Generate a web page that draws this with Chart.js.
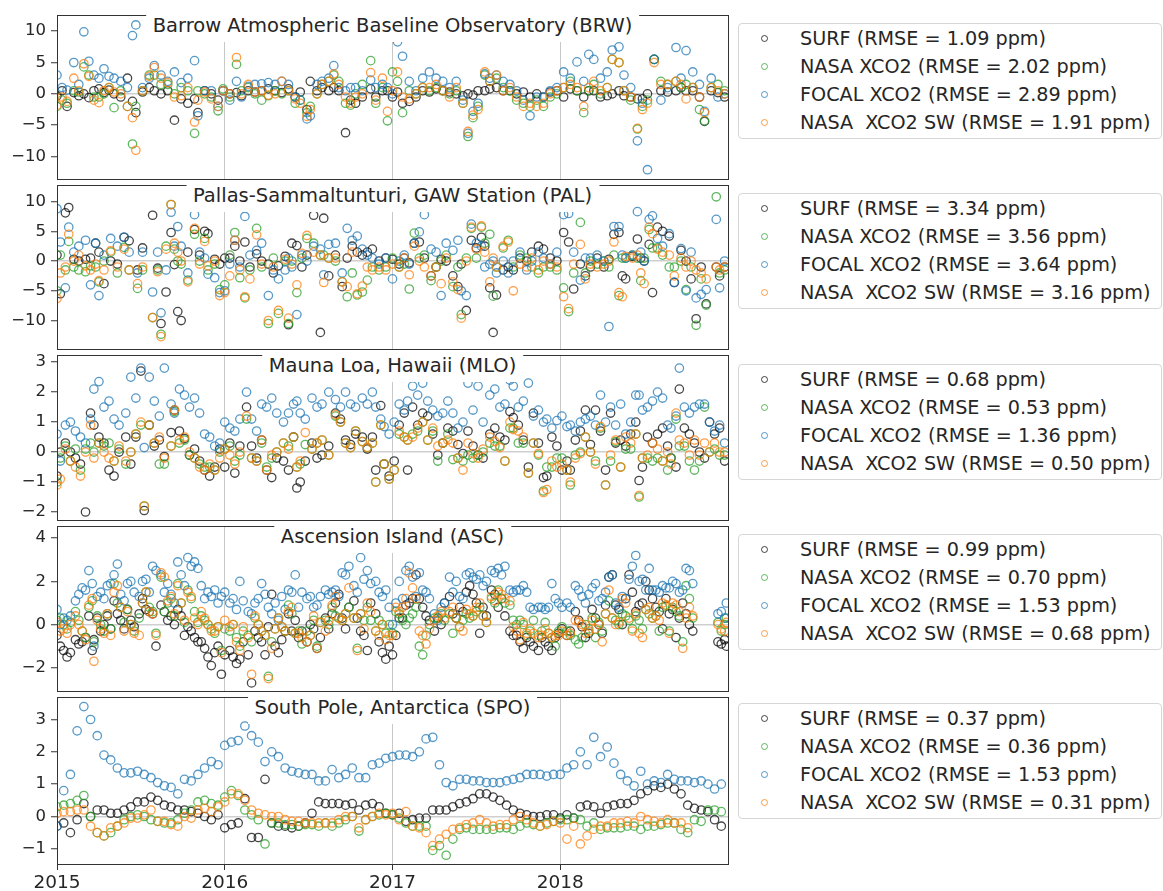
<!DOCTYPE html>
<html><head><meta charset="utf-8">
<script src="https://cdn.jsdelivr.net/npm/chart.js@4.4.1/dist/chart.umd.min.js"></script>
<style>
html,body{margin:0;padding:0;background:#fff;}
#wrap{position:relative;width:1163px;height:891px;overflow:hidden;font-family:'DejaVu Sans',sans-serif;}
.cv{position:absolute;left:0;}
.ttl{position:absolute;background:#fff;font-size:19.5px;line-height:32px;height:32px;padding:0 7px;color:#262626;white-space:pre;transform:translateX(-50%);z-index:5;}
.leg{position:absolute;left:738px;width:422px;height:114px;border:1px solid #d6d6d6;border-radius:4px;background:#fff;z-index:5;}
.row{position:absolute;left:61px;height:28px;line-height:28px;font-size:19.2px;color:#262626;white-space:pre;}
.mk{position:absolute;left:22px;width:5px;height:5px;border-radius:50%;border:1.3px solid;}
</style></head>
<body><div id="wrap"></div>
<script>
const seriesNames = ['SURF', 'NASA XCO2', 'FOCAL XCO2', 'NASA  XCO2 SW'];
const xTicks = [2015, 2016, 2017, 2018];

// ---- BRW ----
const brwTitle = 'Barrow Atmospheric Baseline Observatory (BRW)';
const brwRmse = [1.09, 2.02, 2.89, 1.91];
const brwTicks = [-10, -5, 0, 5, 10];
const brwDates = [2015.00,2015.03,2015.06,2015.10,2015.13,2015.16,2015.19,2015.22,2015.25,2015.28,
2015.31,2015.34,2015.38,2015.42,2015.45,2015.47,2015.51,2015.55,2015.58,2015.62,
2015.66,2015.70,2015.74,2015.78,2015.82,2015.84,2015.88,2015.92,2015.96,2015.99,
2016.03,2016.07,2016.10,2016.14,2016.18,2016.22,2016.26,2016.30,2016.34,2016.38,
2016.42,2016.45,2016.49,2016.51,2016.55,2016.58,2016.62,2016.65,2016.68,2016.72,
2016.75,2016.78,2016.82,2016.87,2016.90,2016.94,2016.97,2017.00,2017.03,2017.06,
2017.10,2017.14,2017.18,2017.22,2017.26,2017.30,2017.34,2017.38,2017.42,2017.45,
2017.48,2017.51,2017.55,2017.58,2017.62,2017.66,2017.70,2017.74,2017.78,2017.82,
2017.86,2017.90,2017.94,2017.98,2018.02,2018.06,2018.10,2018.14,2018.17,2018.20,
2018.24,2018.28,2018.31,2018.35,2018.38,2018.42,2018.46,2018.49,2018.52,2018.56,
2018.60,2018.64,2018.69,2018.72,2018.75,2018.79,2018.83,2018.86,2018.90,2018.94,
2018.98];
const brwSurf = [-0.3,0.5,-2.0,0.2,-0.3,0.0,-0.6,0.5,0.8,0.2,
0.6,0.0,-0.5,2.5,-1.2,-3.0,0.3,1.0,0.5,0.0,
0.5,-4.2,-0.8,-1.5,-0.8,-3.0,0.5,0.0,-1.0,0.5,
0.0,0.2,-0.3,0.5,0.3,0.5,0.8,0.5,0.2,0.8,
-0.5,0.3,-2.5,2.0,0.5,1.0,0.5,1.0,0.5,-6.2,
-1.0,-1.5,-0.5,0.8,-0.5,0.5,0.5,-0.5,0.3,-1.5,
-1.2,-0.5,0.5,0.3,0.8,0.5,0.3,0.0,-0.3,0.0,
-0.2,0.5,0.5,0.8,1.0,0.5,0.5,0.0,0.3,-0.5,
0.0,-0.5,0.3,0.5,-0.5,0.8,0.5,-0.5,0.5,0.5,
-0.5,-0.3,0.0,0.5,-0.3,-0.5,-0.8,-0.8,0.0,5.5,
0.5,0.3,0.5,1.0,0.5,0.5,-0.5,-4.4,0.5,0.2,-0.5];
const brwNasa = [-2.0,-1.0,-1.5,0.5,0.3,4.3,3.0,-0.5,-0.5,0.0,
1.0,-2.2,0.5,-2.0,-8.0,-2.0,0.5,3.0,3.0,1.5,
1.5,0.0,1.0,0.5,-6.3,0.5,0.0,-0.5,-2.7,0.8,
-0.5,4.7,0.5,1.0,0.0,-1.0,-0.3,0.5,0.0,0.5,
-1.5,-1.0,-3.0,-2.0,0.0,1.5,2.0,3.0,2.0,-1.5,
-1.8,0.0,1.5,5.3,-1.5,1.0,-4.3,3.5,2.0,-3.0,
0.5,0.0,1.0,0.5,1.0,0.5,0.0,0.5,-1.5,-6.8,
-3.8,-2.0,3.0,2.0,2.5,1.0,0.5,-1.0,-1.5,-2.0,
-1.0,-2.0,-0.5,0.0,1.0,2.0,0.5,-3.0,0.5,1.5,
0.0,1.0,5.5,5.0,0.5,-1.0,-5.6,-2.0,-1.0,5.5,
2.0,1.5,2.0,1.0,1.5,1.0,-2.5,-4.3,1.0,1.5,0.5];
const brwFocal = [3.0,1.0,0.6,5.0,1.5,9.9,5.2,3.0,2.5,4.0,
2.8,2.5,2.0,1.0,9.3,11.0,1.0,2.5,4.5,3.0,
2.0,3.5,1.8,2.5,5.3,-3.5,0.5,0.5,-2.0,0.5,
-1.0,2.0,-0.5,1.2,1.5,1.6,1.8,1.5,2.0,1.5,
-0.5,-1.0,-4.0,-3.5,1.5,2.0,2.5,4.5,1.0,0.5,
1.0,1.0,0.5,2.2,1.0,1.5,1.0,0.0,8.3,6.0,
2.0,0.5,2.5,3.5,2.5,2.0,1.0,2.0,-1.0,-6.3,
-2.8,-1.5,3.2,2.5,3.0,2.0,1.5,0.5,-1.0,-3.5,
-0.5,-0.5,0.5,1.0,3.5,2.5,5.1,2.0,6.3,5.5,
2.5,3.5,7.0,7.5,3.0,1.0,-7.5,-1.5,-12.1,5.5,
-1.0,1.0,7.4,2.5,6.9,3.5,1.5,-2.8,2.5,-0.5,0.0];
const brwSw = [-1.8,-0.5,-1.2,2.5,0.5,4.8,2.8,-1.0,-1.4,0.5,
1.0,0.3,0.0,-2.0,-3.8,-9.0,0.5,2.8,4.2,2.5,
1.8,-0.5,-0.3,1.0,-4.5,-1.0,0.3,-0.8,-2.0,0.5,
0.0,5.8,0.0,1.5,0.3,0.5,-0.2,0.0,2.0,0.5,
-0.8,-1.5,-3.6,-2.5,0.0,1.5,2.0,3.2,1.5,-0.5,
-1.5,-0.5,0.0,3.4,-1.0,2.5,-2.8,0.5,3.5,-0.5,
-0.8,0.0,1.0,1.0,1.5,0.5,-0.5,1.0,-1.5,-6.0,
-3.4,-2.5,3.5,2.0,3.0,0.5,1.0,-0.5,-2.0,-1.5,
-2.0,-1.5,0.0,0.5,1.0,1.5,1.0,-2.0,1.0,2.0,
0.5,1.0,5.5,5.0,0.5,-0.5,-5.5,-2.5,-1.5,5.0,
1.5,1.5,2.0,1.5,-0.8,1.0,-0.5,-3.0,1.0,0.5,0.0];

// ---- PAL ----
const palTitle = 'Pallas-Sammaltunturi, GAW Station (PAL)';
const palRmse = [3.34, 3.56, 3.64, 3.16];
const palTicks = [-10, -5, 0, 5, 10];
const palDates = [2015.00,2015.02,2015.05,2015.07,2015.10,2015.13,2015.17,2015.20,2015.23,2015.25,
2015.28,2015.32,2015.36,2015.40,2015.43,2015.48,2015.51,2015.57,2015.60,2015.62,
2015.65,2015.68,2015.70,2015.72,2015.74,2015.78,2015.82,2015.85,2015.88,2015.90,
2015.94,2015.97,2016.00,2016.03,2016.06,2016.09,2016.12,2016.15,2016.19,2016.22,
2016.26,2016.29,2016.32,2016.36,2016.38,2016.40,2016.43,2016.46,2016.49,2016.53,
2016.57,2016.59,2016.62,2016.66,2016.70,2016.73,2016.76,2016.79,2016.82,2016.85,
2016.88,2016.92,2016.96,2017.00,2017.04,2017.07,2017.10,2017.13,2017.16,2017.19,
2017.23,2017.26,2017.29,2017.32,2017.36,2017.39,2017.41,2017.44,2017.47,2017.50,
2017.53,2017.55,2017.58,2017.60,2017.62,2017.66,2017.69,2017.72,2017.76,2017.80,
2017.83,2017.87,2017.90,2017.94,2017.98,2018.02,2018.05,2018.08,2018.12,2018.15,
2018.18,2018.22,2018.26,2018.29,2018.32,2018.35,2018.37,2018.39,2018.43,2018.46,
2018.48,2018.50,2018.53,2018.55,2018.58,2018.61,2018.65,2018.68,2018.72,2018.75,
2018.78,2018.81,2018.84,2018.87,2018.93,2018.95,2018.98];
const palSurf = [1.0,-5.5,8.1,9.0,0.3,0.0,0.3,0.5,3.0,1.5,
-3.8,0.0,-0.5,4.0,3.4,-1.5,2.2,7.7,-1.2,-10.5,
-5.2,4.8,-0.6,-8.5,-10.0,1.5,5.3,1.0,5.0,4.6,
0.3,-0.5,0.5,0.5,2.5,0.0,3.2,-1.0,1.2,0.0,
-0.5,-2.0,-0.8,0.8,-10.7,3.0,2.6,-1.0,1.0,7.7,
-12.0,7.2,-2.5,1.0,-4.3,0.5,2.5,1.5,1.0,1.5,
2.0,0.0,0.5,0.3,-0.5,0.5,-0.3,3.0,3.2,0.5,
-2.5,-1.0,0.3,0.0,-2.5,-4.3,-0.5,-8.3,3.5,2.2,
4.0,2.5,-4.5,-12.0,-5.7,-1.5,-1.0,-1.5,0.5,0.0,
1.5,2.5,2.0,0.5,0.0,4.8,3.2,-4.7,-0.5,-2.5,
-1.0,0.5,-1.0,0.3,4.5,4.8,-2.5,-3.0,0.8,3.7,
0.5,0.0,2.8,-5.3,5.7,5.0,4.2,-3.6,1.8,0.0,
-3.0,-9.7,-1.0,-7.2,-1.0,-2.5,-1.0];
const palNasa = [-5.0,1.0,-1.5,3.3,-1.0,-1.5,-1.8,-0.8,-1.0,-3.5,
0.0,1.5,-2.0,2.3,-1.5,-4.6,-1.5,-9.5,-1.5,-12.3,
2.5,9.5,2.0,0.0,-0.5,-3.2,4.5,0.0,3.8,-1.5,
-0.5,-4.8,-4.0,1.0,4.8,-2.8,-6.2,-1.5,5.5,-1.0,
-10.5,0.5,-8.8,0.0,-10.5,0.0,-5.3,0.5,3.8,3.0,
1.0,1.0,0.5,0.0,-3.5,-6.0,-2.0,-5.7,-5.2,-3.2,
-1.0,-1.5,-1.0,0.5,-1.0,-0.5,-4.7,4.7,0.5,1.0,
-3.3,-1.0,0.0,1.0,-4.3,-1.0,-9.0,0.5,5.5,0.5,
5.7,3.0,4.5,-5.9,-1.0,2.2,3.5,-1.0,1.0,0.5,
-1.0,-2.0,-1.0,-1.0,-1.5,-4.5,-8.5,-2.0,6.5,-2.0,
0.0,-0.5,0.0,-1.0,1.0,-5.8,0.5,0.5,1.0,0.5,
-3.3,0.5,5.3,2.2,2.2,1.0,-1.0,-1.0,0.0,-4.8,
-1.0,-10.8,-3.0,-7.4,10.8,-2.0,-1.5];
const palFocal = [8.8,3.2,-4.5,5.7,1.5,2.5,3.5,-4.0,3.0,-5.8,
1.0,3.8,2.5,4.0,1.5,-2.0,1.5,-5.2,1.5,-8.7,
-1.5,8.2,2.5,5.8,2.5,-2.0,7.8,1.5,0.5,-2.2,
-2.8,-5.3,-5.0,-0.5,3.5,-1.0,7.5,1.0,1.8,3.0,
-5.8,-1.5,-3.0,-1.5,0.5,-1.0,-9.0,1.0,0.0,2.5,
2.0,-2.3,2.8,3.0,-2.0,5.5,3.5,4.2,2.0,1.0,
0.5,-0.5,0.5,-3.0,0.0,1.0,-0.5,3.0,4.9,7.8,
2.0,1.5,-5.8,3.0,1.8,3.5,-5.0,-5.8,6.2,3.0,
2.5,-1.0,-0.5,0.0,-2.0,0.0,-2.0,0.0,1.5,-1.5,
0.0,1.5,0.5,-0.5,1.5,7.8,8.0,1.5,-3.2,0.5,
0.5,1.0,0.0,-11.0,5.8,5.8,1.0,0.5,1.0,8.3,
1.5,0.0,7.0,7.6,3.8,2.5,4.6,-3.6,2.1,-5.0,
1.5,-6.2,-5.6,-4.8,7.0,-4.5,0.0];
const palSw = [-6.3,-2.0,-1.0,4.5,0.0,1.0,-0.8,-1.5,-0.5,-3.3,
-1.5,1.7,-1.0,2.0,-1.5,-3.8,-1.0,-9.5,-1.8,-12.7,
2.0,9.5,3.0,1.5,0.0,-3.5,5.5,-0.5,3.3,-0.8,
0.0,-5.8,-5.3,-2.5,3.5,-1.5,-6.0,-3.0,4.4,-0.5,
-10.0,-1.0,-8.3,0.3,-9.6,-0.5,-4.0,1.3,4.3,1.5,
1.0,-3.6,0.5,0.5,-3.5,-4.3,1.5,-5.5,-4.2,-1.0,
-1.5,-1.0,-1.5,-0.5,-1.0,0.5,-2.3,2.5,0.0,-1.0,
-2.5,-1.0,-3.8,0.5,-3.5,-4.8,-9.6,0.0,5.7,2.0,
5.9,1.5,-3.5,0.5,-1.0,2.5,3.2,-5.0,-0.5,-1.0,
0.5,-1.5,0.0,-0.5,-1.0,-6.0,-8.0,-0.5,2.8,-3.0,
-0.5,-1.0,-0.5,0.0,3.2,-5.3,-6.0,0.8,0.5,1.0,
-2.0,-3.8,5.7,4.6,2.0,1.5,1.0,-2.5,0.5,-1.0,
0.0,-1.5,-2.0,-3.0,-1.0,-1.5,-1.0];

// ---- MLO ----
const mloTitle = 'Mauna Loa, Hawaii (MLO)';
const mloRmse = [0.68, 0.53, 1.36, 0.50];
const mloTicks = [-2, -1, 0, 1, 2, 3];
const mloDates = [2015.00,2015.02,2015.05,2015.08,2015.11,2015.14,2015.17,2015.20,2015.22,2015.25,
2015.28,2015.31,2015.34,2015.37,2015.41,2015.44,2015.47,2015.50,2015.52,2015.55,
2015.58,2015.61,2015.64,2015.68,2015.70,2015.73,2015.76,2015.79,2015.82,2015.85,
2015.88,2015.91,2015.94,2015.97,2016.00,2016.03,2016.06,2016.09,2016.13,2016.16,
2016.19,2016.22,2016.25,2016.28,2016.31,2016.35,2016.38,2016.41,2016.43,2016.45,
2016.48,2016.52,2016.55,2016.58,2016.62,2016.66,2016.69,2016.72,2016.75,2016.78,
2016.82,2016.85,2016.88,2016.90,2016.93,2016.95,2016.98,2017.01,2017.04,2017.07,
2017.09,2017.12,2017.15,2017.18,2017.21,2017.24,2017.27,2017.30,2017.33,2017.36,
2017.39,2017.42,2017.45,2017.48,2017.51,2017.54,2017.58,2017.61,2017.64,2017.67,
2017.70,2017.72,2017.75,2017.78,2017.81,2017.84,2017.87,2017.90,2017.92,2017.95,
2017.98,2018.01,2018.04,2018.06,2018.09,2018.12,2018.15,2018.18,2018.21,2018.24,
2018.27,2018.30,2018.33,2018.36,2018.39,2018.42,2018.45,2018.47,2018.49,2018.52,
2018.55,2018.58,2018.61,2018.64,2018.66,2018.69,2018.71,2018.74,2018.77,2018.80,
2018.83,2018.86,2018.89,2018.92,2018.95,2018.98];
const mloSurf = [-0.8,0.0,0.3,0.0,-0.2,-0.4,-2.0,1.3,0.9,0.5,
0.3,-0.6,-0.8,0.0,0.5,-0.4,0.5,2.7,-1.95,0.9,
0.2,0.4,-0.15,0.65,1.4,0.7,0.45,-0.1,0.1,-0.3,
-0.6,-0.8,-0.5,0.1,-0.5,0.3,-0.7,0.2,1.5,0.2,
-0.2,0.4,-0.6,-0.85,-0.2,-0.3,-0.6,0.5,-1.2,-1.0,
-0.3,0.3,-0.2,-0.1,0.2,1.3,1.1,0.4,0.25,0.6,
0.5,0.1,0.5,-0.6,1.55,-0.4,-0.8,-0.3,0.9,1.3,
-0.6,1.5,0.9,1.3,1.2,0.6,-0.1,0.3,0.8,0.7,
0.25,-0.05,0.7,0.2,-0.1,-0.2,0.6,0.8,0.5,0.4,
1.35,1.15,0.9,0.4,-0.5,1.3,0.3,-0.85,-0.8,0.5,
0.2,-0.6,-0.3,-0.6,0.4,0.7,1.4,0.25,1.4,0.7,
-0.6,1.3,0.3,0.4,0.2,0.6,1.0,-0.95,-0.5,0.5,
0.3,0.6,0.8,0.2,-0.2,-0.5,2.1,0.8,0.6,0.3,
0.0,-0.2,1.0,0.6,0.8,-0.3];
const mloNasa = [-1.0,-0.2,0.2,-0.3,0.1,-0.6,0.1,0.3,0.0,0.3,
0.2,0.3,-0.3,0.1,-0.4,0.0,0.6,0.9,-1.8,0.9,
0.3,-0.4,-0.4,0.2,1.35,0.3,0.4,-0.1,-0.2,-0.4,
-0.5,-0.5,-0.6,0.0,0.1,0.2,-0.3,-0.1,1.1,-0.2,
-0.3,0.3,-0.5,-0.2,0.0,0.3,0.2,0.5,-0.5,-0.4,
0.25,0.1,0.3,0.4,-0.1,1.2,1.0,0.3,0.15,0.7,
0.35,0.15,0.3,-1.0,0.9,-0.4,-0.9,-0.6,0.6,0.5,
0.4,0.6,0.7,1.0,0.4,0.7,-0.3,0.3,0.6,-0.25,
-0.2,-0.3,-0.1,-0.2,-0.1,0.0,0.3,0.2,0.2,-0.3,
0.8,0.8,0.3,0.3,-0.7,0.3,-0.1,-1.3,-0.5,-0.5,
-0.2,-0.2,-0.6,-1.1,-0.1,0.0,0.5,0.0,-0.3,0.8,
-1.1,-0.3,0.35,-0.5,0.1,0.1,0.6,-1.5,-0.2,-0.2,
-0.3,-0.2,-0.3,-0.6,-0.2,1.1,0.2,0.2,-0.3,-0.6,
-0.3,1.5,0.0,0.1,-0.1,-0.1];
const mloFocal = [0.6,-0.3,0.9,1.0,0.7,0.5,0.3,1.1,2.1,2.35,
1.5,1.7,1.1,0.9,1.3,2.5,1.8,2.8,0.15,2.5,
1.7,1.2,2.8,1.6,1.3,2.1,1.9,1.5,1.8,1.3,
0.6,0.5,0.2,0.3,1.0,0.8,0.7,1.1,2.0,1.1,
0.7,1.6,1.5,1.8,1.3,1.0,1.3,1.6,1.7,1.3,
1.1,1.8,1.5,1.6,2.0,1.75,1.5,2.0,1.6,1.5,
1.8,1.6,2.0,1.5,1.1,0.85,0.6,1.0,1.6,1.4,
1.7,2.2,1.9,2.3,1.7,1.4,1.2,1.3,1.7,1.3,
0.8,1.0,2.3,1.4,2.2,1.0,1.9,2.1,1.5,1.6,
2.4,2.2,1.5,1.7,2.3,1.2,1.4,1.0,1.1,0.8,
1.05,1.2,0.85,0.9,0.7,1.0,1.1,1.2,0.9,1.9,
1.0,1.5,0.9,1.6,0.6,1.0,1.9,1.9,1.4,1.5,
1.7,2.0,1.8,0.9,0.8,1.2,2.8,1.5,1.3,1.5,
1.6,1.6,1.0,0.7,0.9,0.3];
const mloSw = [-1.1,-0.9,0.1,-0.3,-0.5,-0.8,0.0,0.9,-0.2,0.3,
0.0,-0.2,-0.3,0.2,-0.3,0.0,0.6,1.0,-1.8,0.9,
0.3,0.5,-0.2,0.2,1.4,0.4,0.5,0.0,-0.2,-0.5,
-0.6,-0.4,-0.6,-0.2,0.1,-0.1,-0.4,0.0,1.2,-0.2,
-0.3,0.4,-0.6,-0.1,0.0,0.3,0.1,0.5,-0.5,-0.3,
0.65,0.1,0.3,0.4,-0.1,1.25,1.0,0.3,0.15,0.7,
0.35,0.15,0.3,-1.0,0.9,-0.4,-0.9,-0.6,0.7,0.5,
0.4,0.5,0.8,1.0,0.4,0.8,0.2,0.3,0.4,0.3,
-0.2,-0.6,0.3,-0.05,-0.2,0.1,0.5,0.35,0.15,-0.3,
1.0,0.75,0.7,0.5,-0.7,0.3,-0.05,-1.35,-1.25,-0.3,
-0.5,-0.4,-0.6,-1.0,-0.2,-0.05,0.5,0.0,-0.4,0.85,
-1.1,-0.1,0.4,-0.5,0.5,0.3,0.6,-1.45,-0.2,-0.1,
0.3,0.1,-0.3,0.0,-0.4,1.3,0.4,0.3,-0.1,0.4,
-0.1,0.3,0.0,0.3,0.0,0.0];

// ---- ASC ----
const ascTitle = 'Ascension Island (ASC)';
const ascRmse = [0.99, 0.70, 1.53, 0.68];
const ascTicks = [-2, 0, 2, 4];
const ascDates = [2015.00,2015.02,2015.04,2015.06,2015.08,2015.11,2015.13,2015.15,2015.17,2015.19,
2015.21,2015.22,2015.24,2015.26,2015.28,2015.30,2015.32,2015.34,2015.36,2015.38,
2015.40,2015.42,2015.44,2015.46,2015.49,2015.51,2015.53,2015.55,2015.57,2015.59,
2015.62,2015.64,2015.66,2015.68,2015.70,2015.72,2015.74,2015.76,2015.78,2015.80,
2015.82,2015.84,2015.86,2015.88,2015.90,2015.92,2015.94,2015.96,2015.98,2016.00,
2016.03,2016.05,2016.07,2016.09,2016.11,2016.14,2016.16,2016.18,2016.20,2016.22,
2016.24,2016.26,2016.28,2016.30,2016.32,2016.34,2016.36,2016.38,2016.40,2016.42,
2016.44,2016.46,2016.49,2016.51,2016.53,2016.55,2016.57,2016.60,2016.62,2016.64,
2016.66,2016.68,2016.70,2016.72,2016.74,2016.77,2016.79,2016.81,2016.83,2016.85,
2016.87,2016.90,2016.92,2016.94,2016.96,2016.98,2017.00,2017.02,2017.04,2017.06,
2017.08,2017.10,2017.12,2017.14,2017.16,2017.18,2017.20,2017.22,2017.25,2017.27,
2017.29,2017.31,2017.34,2017.36,2017.38,2017.40,2017.42,2017.44,2017.46,2017.48,
2017.50,2017.52,2017.54,2017.56,2017.59,2017.61,2017.63,2017.65,2017.67,2017.70,
2017.72,2017.74,2017.76,2017.78,2017.80,2017.82,2017.84,2017.87,2017.89,2017.91,
2017.93,2017.95,2017.97,2017.99,2018.01,2018.04,2018.06,2018.09,2018.11,2018.13,
2018.15,2018.17,2018.19,2018.21,2018.23,2018.25,2018.27,2018.29,2018.31,2018.33,
2018.35,2018.37,2018.39,2018.41,2018.43,2018.45,2018.47,2018.49,2018.51,2018.53,
2018.55,2018.57,2018.59,2018.61,2018.63,2018.65,2018.67,2018.69,2018.71,2018.73,
2018.75,2018.77,2018.79,2018.94,2018.96,2018.98,2018.99];
const ascSurf = [-0.5,-1.0,-1.2,-1.5,-1.3,-0.7,-0.9,-0.8,-0.6,0.4,
-1.2,-0.7,0.3,-0.3,0.0,0.4,-0.2,1.1,0.5,0.2,
-0.2,0.7,0.2,-0.1,0.5,1.2,0.7,0.6,0.5,-1.0,
0.9,0.6,0.2,0.4,0.0,0.7,0.4,-0.5,-0.1,-0.3,
-0.6,-0.8,-0.8,-1.1,-1.5,-1.9,-1.3,-1.0,-2.3,-1.4,
-1.2,-1.5,-1.8,-1.6,-0.8,-1.4,-2.7,-0.3,-0.6,-0.8,
-1.4,-0.1,1.4,-1.0,-1.3,-0.7,-0.3,0.5,-0.3,0.2,
-0.6,-0.3,-0.8,0.0,-0.2,-1.1,-0.6,0.3,-0.2,0.5,
1.0,1.4,0.3,-0.2,0.8,1.1,0.3,-0.3,-0.5,-1.2,
1.0,0.5,-0.8,-1.3,-1.6,-1.0,-1.4,-0.5,0.3,0.3,
0.9,1.0,1.2,2.3,1.2,0.8,0.4,0.2,-0.3,0.3,
0.0,1.0,1.3,0.5,0.3,0.8,0.6,1.5,1.8,1.4,
1.0,-0.4,0.8,0.4,1.6,1.4,0.8,1.2,0.4,-0.3,
-0.5,-0.5,-0.8,-1.1,-0.6,-0.8,-1.0,-1.2,-0.6,-0.8,
-1.0,-1.2,-0.6,-0.4,-0.2,-0.5,-0.3,0.6,0.2,-0.1,
-0.6,-0.4,0.7,0.3,0.0,-0.4,0.9,2.2,2.3,0.9,
0.7,0.0,1.2,2.3,1.5,0.6,0.9,1.0,2.0,1.6,
1.2,0.8,0.6,-0.2,1.2,0.5,0.7,-0.6,0.3,1.0,
0.5,0.0,-0.3,-0.8,-0.9,-0.7,-1.0];
const ascNasa = [0.2,0.3,0.0,-0.2,0.1,0.6,0.2,-0.3,-0.6,0.8,
1.1,-0.8,0.4,0.0,-0.3,0.5,-0.2,1.9,1.0,0.8,
0.1,0.7,0.0,-0.3,0.3,1.0,1.5,0.8,0.6,-0.4,
2.2,0.6,1.0,1.2,0.4,1.9,1.0,0.1,1.6,1.2,
0.6,0.1,0.4,0.2,0.0,-0.2,-0.4,-0.1,-1.2,-0.2,
-0.3,0.0,-0.6,-1.0,-0.3,-0.5,-0.8,0.3,0.0,-0.3,
-0.5,-2.4,-0.8,-0.2,0.3,-0.1,-0.3,0.9,0.5,-0.4,
-0.3,-0.9,-0.3,-0.5,0.2,-1.0,0.1,0.2,0.0,0.8,
0.4,0.3,0.2,0.5,0.8,0.3,-1.1,0.5,0.2,0.8,
0.2,-0.3,0.2,0.0,-0.4,0.0,-0.4,0.6,0.5,0.2,
0.0,0.3,0.5,0.8,-1.0,-1.4,-0.5,0.0,0.3,0.3,
0.5,0.2,0.5,-0.4,0.3,-0.1,0.2,0.5,0.3,0.4,
0.6,0.8,0.4,0.1,1.2,1.0,1.6,1.2,1.0,0.9,
0.2,0.0,0.2,0.0,-0.5,-0.3,0.2,-0.5,-0.3,0.1,
-0.4,-0.6,-1.0,-0.3,-0.1,-0.3,-0.5,-0.7,-0.9,-0.6,
0.0,-0.2,0.3,-0.6,0.1,-0.3,0.5,1.1,0.3,0.2,
0.0,0.5,0.4,0.2,-0.2,0.4,0.2,-0.2,0.7,0.5,
0.3,0.4,-0.3,0.8,0.9,-0.3,0.8,0.6,0.4,-0.8,
1.8,1.2,0.3,0.1,-0.3,0.0,0.3];
const ascFocal = [0.7,0.0,0.3,0.2,0.4,1.1,1.4,1.7,1.6,2.5,
1.9,-1.0,1.3,1.5,1.2,1.8,1.9,2.3,2.8,1.4,
1.1,1.9,2.0,1.5,1.3,2.0,2.1,1.5,2.7,2.5,
2.3,1.5,1.9,1.4,1.0,2.9,2.3,1.8,3.1,2.7,
2.9,2.6,1.8,1.2,1.5,1.3,1.6,1.0,1.3,1.5,
1.0,1.2,0.7,2.0,1.1,0.6,0.5,1.0,1.2,1.9,
1.4,0.8,0.5,1.0,0.2,1.3,0.7,1.6,1.5,2.3,
0.8,1.5,1.2,1.3,0.8,0.9,1.3,1.6,1.4,1.5,
1.6,1.3,2.4,2.3,2.7,1.8,1.5,3.1,2.1,2.5,
1.9,2.0,1.5,1.3,1.6,0.8,0.0,1.0,2.0,1.2,
2.5,2.7,2.2,1.3,2.4,1.6,1.5,1.2,0.5,0.2,
0.8,1.0,2.2,1.5,2.0,1.3,1.2,2.3,2.4,2.2,
2.1,2.3,1.8,2.0,2.5,2.4,2.6,2.3,2.7,1.6,
1.5,1.6,1.6,1.8,1.5,0.8,0.7,0.8,0.8,0.7,
0.8,1.9,1.2,1.0,0.8,1.0,0.8,1.8,1.6,1.3,
1.0,1.4,1.7,1.9,1.1,1.2,1.5,2.2,2.3,1.0,
0.8,1.3,1.2,2.1,2.7,3.2,2.0,2.1,1.6,2.6,
1.6,1.6,1.5,1.8,1.7,1.7,2.0,1.9,1.5,1.6,
2.6,2.5,1.9,0.5,0.6,0.3,1.0];
const ascSw = [0.1,-0.3,-0.2,-0.4,0.0,0.4,0.0,-0.3,-0.7,0.9,
1.2,-1.7,0.2,-0.2,-0.4,0.5,-0.5,1.5,1.8,0.8,
-0.3,0.6,0.0,-0.4,-0.5,1.0,1.5,0.6,0.5,-0.5,
2.4,2.2,1.1,1.3,0.5,1.8,1.0,0.2,1.5,1.3,
0.3,0.0,0.6,0.3,0.0,-0.3,-0.3,-0.1,-1.3,0.2,
-0.1,0.0,-0.8,-1.2,-0.1,-0.6,-2.3,0.4,0.0,-0.3,
-0.5,-2.5,-1.1,-0.2,0.3,-0.1,-0.3,0.6,0.8,-0.4,
-0.4,-0.6,-0.8,-0.5,0.4,-1.1,0.1,-0.3,0.2,0.9,
1.3,0.3,0.2,0.5,1.7,0.3,-1.2,0.5,-0.2,1.0,
0.6,-0.3,-0.5,0.0,-0.7,-0.5,-0.5,0.8,0.6,0.8,
1.2,2.4,1.7,1.2,-0.3,-0.5,-0.9,-0.2,0.2,0.4,
0.6,0.3,0.6,0.8,0.3,-0.1,-0.3,0.7,0.5,0.4,
0.8,1.0,0.4,0.1,1.3,1.1,1.5,1.4,1.2,1.1,
-0.1,-0.3,-0.7,0.1,-0.4,-0.2,-0.4,-0.6,-0.5,-0.2,
-0.4,-0.6,-0.5,-0.5,-0.3,-0.5,-0.4,0.2,0.1,0.0,
-0.4,-0.3,0.2,-0.2,0.0,-0.8,0.5,1.6,0.3,0.0,
0.1,1.2,1.0,0.3,-0.3,0.5,-0.4,-0.6,0.7,0.8,
0.3,0.4,0.2,1.0,0.9,-0.4,1.0,0.9,0.6,-1.1,
0.3,0.8,0.4,0.0,-0.2,-0.3,0.1];

// ---- SPO ----
const spoTitle = 'South Pole, Antarctica (SPO)';
const spoRmse = [0.37, 0.36, 1.53, 0.31];
const spoTicks = [-1, 0, 1, 2, 3];
const spoDates = [2015.00,2015.04,2015.08,2015.12,2015.16,2015.20,2015.24,2015.28,2015.32,2015.36,
2015.40,2015.44,2015.48,2015.52,2015.56,2015.60,2015.64,2015.68,2015.72,2015.76,
2015.80,2015.84,2015.88,2015.92,2015.96,
2016.00,2016.04,2016.08,2016.12,2016.16,2016.20,2016.24,2016.28,2016.32,2016.36,
2016.40,2016.44,2016.48,2016.52,2016.56,2016.60,2016.64,2016.68,2016.72,2016.76,
2016.80,2016.84,2016.88,2016.92,2016.96,
2017.00,2017.04,2017.08,2017.12,2017.16,2017.20,2017.24,2017.28,2017.32,2017.36,
2017.40,2017.44,2017.48,2017.52,2017.56,2017.60,2017.64,2017.68,2017.72,2017.76,
2017.80,2017.84,2017.88,2017.92,2017.96,
2018.00,2018.04,2018.08,2018.12,2018.16,2018.20,2018.24,2018.28,2018.32,2018.36,
2018.40,2018.44,2018.48,2018.52,2018.56,2018.60,2018.64,2018.68,2018.72,2018.76,
2018.80,2018.84,2018.88,2018.92,2018.96];
const spoSurf = [-0.3,-0.2,-0.5,-0.1,0.4,0.0,0.2,0.2,0.1,0.1,
0.2,0.3,0.45,0.45,0.6,0.5,0.35,0.3,0.2,0.2,
0.15,0.1,0.0,-0.1,0.05,
-0.35,-0.25,-0.2,0.55,-0.65,-0.65,1.15,-0.2,-0.3,-0.3,
-0.35,-0.3,-0.2,0.1,0.45,0.4,0.4,0.4,0.35,0.4,
0.2,0.35,0.4,0.3,0.1,
0.05,0.1,-0.15,-0.1,-0.05,-0.05,0.2,0.2,0.2,0.3,
0.4,0.45,0.55,0.7,0.7,0.6,0.5,0.35,0.2,0.1,
0.05,0.0,0.0,0.05,0.05,
-0.05,0.05,-0.05,0.3,0.35,0.3,0.1,0.3,0.35,0.4,
0.4,0.5,0.7,0.8,0.95,0.9,1.0,0.85,0.7,0.35,
0.25,0.2,0.15,-0.1,-0.3];
const spoNasa = [0.3,0.35,0.4,0.5,0.65,0.0,-0.5,-0.6,-0.5,-0.3,
-0.1,0.0,0.05,0.0,-0.1,-0.15,-0.2,-0.2,-0.1,0.1,
0.2,0.45,0.5,0.4,0.35,
0.6,0.8,0.65,0.2,0.05,-0.1,-0.85,-0.2,-0.2,-0.25,
-0.25,-0.3,-0.25,-0.25,-0.3,-0.2,-0.3,-0.2,-0.1,0.0,
-0.45,-0.1,0.0,0.05,0.1,
0.05,-0.05,-0.2,-0.3,-0.3,-0.3,-1.05,-0.9,-1.2,-0.7,
-0.4,-0.35,-0.4,-0.4,-0.4,-0.4,-0.35,-0.35,-0.4,-0.3,
-0.2,-0.25,-0.3,-0.2,-0.15,
-0.1,-0.1,-0.05,-0.1,-0.3,-0.2,-0.4,-0.35,-0.35,-0.35,
-0.3,-0.3,-0.4,-0.3,-0.3,-0.25,-0.2,-0.2,-0.4,-0.5,
-0.1,-0.15,0.2,0.2,0.15];
const spoFocal = [-0.3,0.8,1.3,2.65,3.4,3.0,2.5,1.9,1.75,1.5,
1.35,1.35,1.4,1.3,1.2,1.05,0.95,0.9,0.7,1.15,
1.1,1.3,1.5,1.7,1.6,
2.2,2.3,2.35,2.8,2.5,2.3,1.7,2.0,1.85,1.5,
1.4,1.35,1.3,1.3,1.1,1.1,1.45,1.2,1.3,1.5,
1.2,1.2,1.6,1.65,1.8,
1.85,1.9,1.9,1.85,2.0,2.4,2.45,1.6,1.05,0.95,
1.15,1.15,1.1,1.1,1.05,1.05,1.05,1.1,1.15,1.2,
1.3,1.3,1.3,1.25,1.3,
1.3,1.5,1.6,2.0,1.6,2.45,1.85,2.15,1.65,1.3,
1.1,0.95,1.4,1.0,1.1,1.05,1.3,1.15,1.1,1.1,
1.05,1.1,1.0,0.85,1.0];
const spoSw = [0.1,0.15,0.15,0.2,0.2,-0.3,-0.5,-0.6,-0.35,-0.3,
-0.2,-0.05,-0.05,0.05,0.2,-0.15,-0.15,-0.25,-0.3,0.0,
-0.05,0.2,0.25,0.15,0.3,
0.45,0.7,0.7,0.5,0.2,0.1,0.05,0.0,0.0,-0.1,
-0.15,-0.15,-0.2,-0.2,-0.2,-0.2,-0.2,-0.1,0.0,0.0,
-0.35,-0.1,0.0,0.1,0.05,
0.1,-0.1,0.15,-0.3,-0.35,-0.5,-0.9,-0.7,-0.55,-0.4,
-0.35,-0.25,-0.2,-0.1,-0.2,-0.3,-0.25,-0.25,-0.1,0.0,
-0.1,-0.2,-0.3,-0.25,-0.15,
-0.2,-0.7,-0.3,-0.85,-0.6,-0.4,-0.3,-0.3,-0.2,-0.2,
-0.15,-0.2,0.0,-0.1,-0.15,-0.2,-0.1,-0.2,-0.2,-0.35,
null,null,null,null,null];

// ---- layout / style ----
const colors = ['rgba(0,0,0,0.72)', 'rgba(44,160,44,0.75)', 'rgba(31,119,180,0.75)', 'rgba(255,127,14,0.75)'];
const panels = [
  {title: brwTitle, dates: brwDates, series: [brwSurf, brwNasa, brwFocal, brwSw], rmse: brwRmse, ticks: brwTicks, yMin: -13.6, yMax: 12.6, top: 12, bottom: 182, legTop: 23},
  {title: palTitle, dates: palDates, series: [palSurf, palNasa, palFocal, palSw], rmse: palRmse, ticks: palTicks, yMin: -14.8, yMax: 12.8, top: 182, bottom: 352, legTop: 193},
  {title: mloTitle, dates: mloDates, series: [mloSurf, mloNasa, mloFocal, mloSw], rmse: mloRmse, ticks: mloTicks, yMin: -2.27, yMax: 3.24, top: 352, bottom: 523, legTop: 364},
  {title: ascTitle, dates: ascDates, series: [ascSurf, ascNasa, ascFocal, ascSw], rmse: ascRmse, ticks: ascTicks, yMin: -3.08, yMax: 4.57, top: 523, bottom: 694, legTop: 534},
  {title: spoTitle, dates: spoDates, series: [spoSurf, spoNasa, spoFocal, spoSw], rmse: spoRmse, ticks: spoTicks, yMin: -1.47, yMax: 3.70, top: 694, bottom: 864, legTop: 703}
];

Chart.defaults.font.family = "'DejaVu Sans', sans-serif";
Chart.defaults.font.size = 16;
Chart.defaults.color = '#262626';

const frame = {
  id: 'frame',
  afterDraw(chart) {
    const {ctx, chartArea: a} = chart;
    ctx.save();
    ctx.strokeStyle = '#333';
    ctx.lineWidth = 1;
    ctx.strokeRect(Math.round(a.left) + 0.5, Math.round(a.top) + 0.5, Math.round(a.right - a.left), Math.round(a.bottom - a.top));
    ctx.restore();
  }
};

const wrap = document.getElementById('wrap');
const fmt = v => (v < 0 ? '\u2212' + Math.abs(v) : String(v));

panels.forEach((p, i) => {
  const last = i === panels.length - 1;
  const cv = document.createElement('canvas');
  const H = p.bottom - p.top + 12 + (last ? 40 : 12);
  cv.width = 740; cv.height = H;
  cv.className = 'cv';
  cv.style.top = (p.top - 12) + 'px';
  cv.style.width = '740px'; cv.style.height = H + 'px';
  wrap.appendChild(cv);

  const datasets = seriesNames.map((name, k) => ({
    label: name,
    data: p.dates.map((d, j) => ({x: d, y: p.series[k][j]})),
    borderColor: colors[k],
    backgroundColor: 'rgba(0,0,0,0)',
    pointRadius: 4.2,
    pointHoverRadius: 4.2,
    pointBorderWidth: 1.3,
    showLine: false,
    order: 4 - k,
    clip: 0
  }));

  new Chart(cv, {
    type: 'scatter',
    data: {datasets},
    options: {
      responsive: false,
      animation: false,
      devicePixelRatio: 1,
      events: [],
      layout: {padding: {top: 12, bottom: last ? 0 : 12, left: 0, right: 12}},
      plugins: {legend: {display: false}, tooltip: {enabled: false}},
      scales: {
        x: {
          type: 'linear', min: 2015, max: 2019,
          afterBuildTicks: s => { s.ticks = xTicks.map(v => ({value: v})); },
          afterFit: s => { s.height = last ? 40 : 0; },
          grid: {
            color: c => (c.tick && c.tick.value === 2015 ? 'rgba(0,0,0,0)' : '#c9c9c9'),
            lineWidth: 1, drawTicks: last, tickLength: 6, tickColor: '#333', tickWidth: 1
          },
          border: {display: false},
          ticks: {display: last, font: {size: 18.5}, padding: 2, maxRotation: 0, autoSkip: false, callback: v => String(v)}
        },
        y: {
          min: p.yMin, max: p.yMax,
          afterBuildTicks: s => { s.ticks = p.ticks.map(v => ({value: v})); },
          afterFit: s => { s.width = 57; },
          grid: {
            color: c => (c.tick && c.tick.value === 0 ? '#cfcfcf' : 'rgba(0,0,0,0)'),
            lineWidth: 1.5, drawTicks: true, tickLength: 6, tickColor: '#333', tickWidth: 1
          },
          border: {display: false},
          ticks: {font: {size: 16.5}, padding: 5, autoSkip: false, callback: v => fmt(v)}
        }
      }
    },
    plugins: [frame]
  });

  const t = document.createElement('div');
  t.className = 'ttl';
  t.textContent = p.title;
  t.style.left = '392.5px';
  t.style.top = (p.top - 2) + 'px';
  wrap.appendChild(t);

  const lg = document.createElement('div');
  lg.className = 'leg';
  lg.style.top = p.legTop + 'px';
  seriesNames.forEach((name, k) => {
    const cy = 14.5 + 28 * k;
    const r = document.createElement('div');
    r.className = 'row';
    r.style.top = (cy - 14) + 'px';
    r.textContent = name + ' (RMSE = ' + p.rmse[k].toFixed(2) + ' ppm)';
    lg.appendChild(r);
    const m = document.createElement('span');
    m.className = 'mk';
    m.style.borderColor = colors[k];
    m.style.top = (cy - 3.8) + 'px';
    lg.appendChild(m);
  });
  wrap.appendChild(lg);
});
</script>
</body></html>
